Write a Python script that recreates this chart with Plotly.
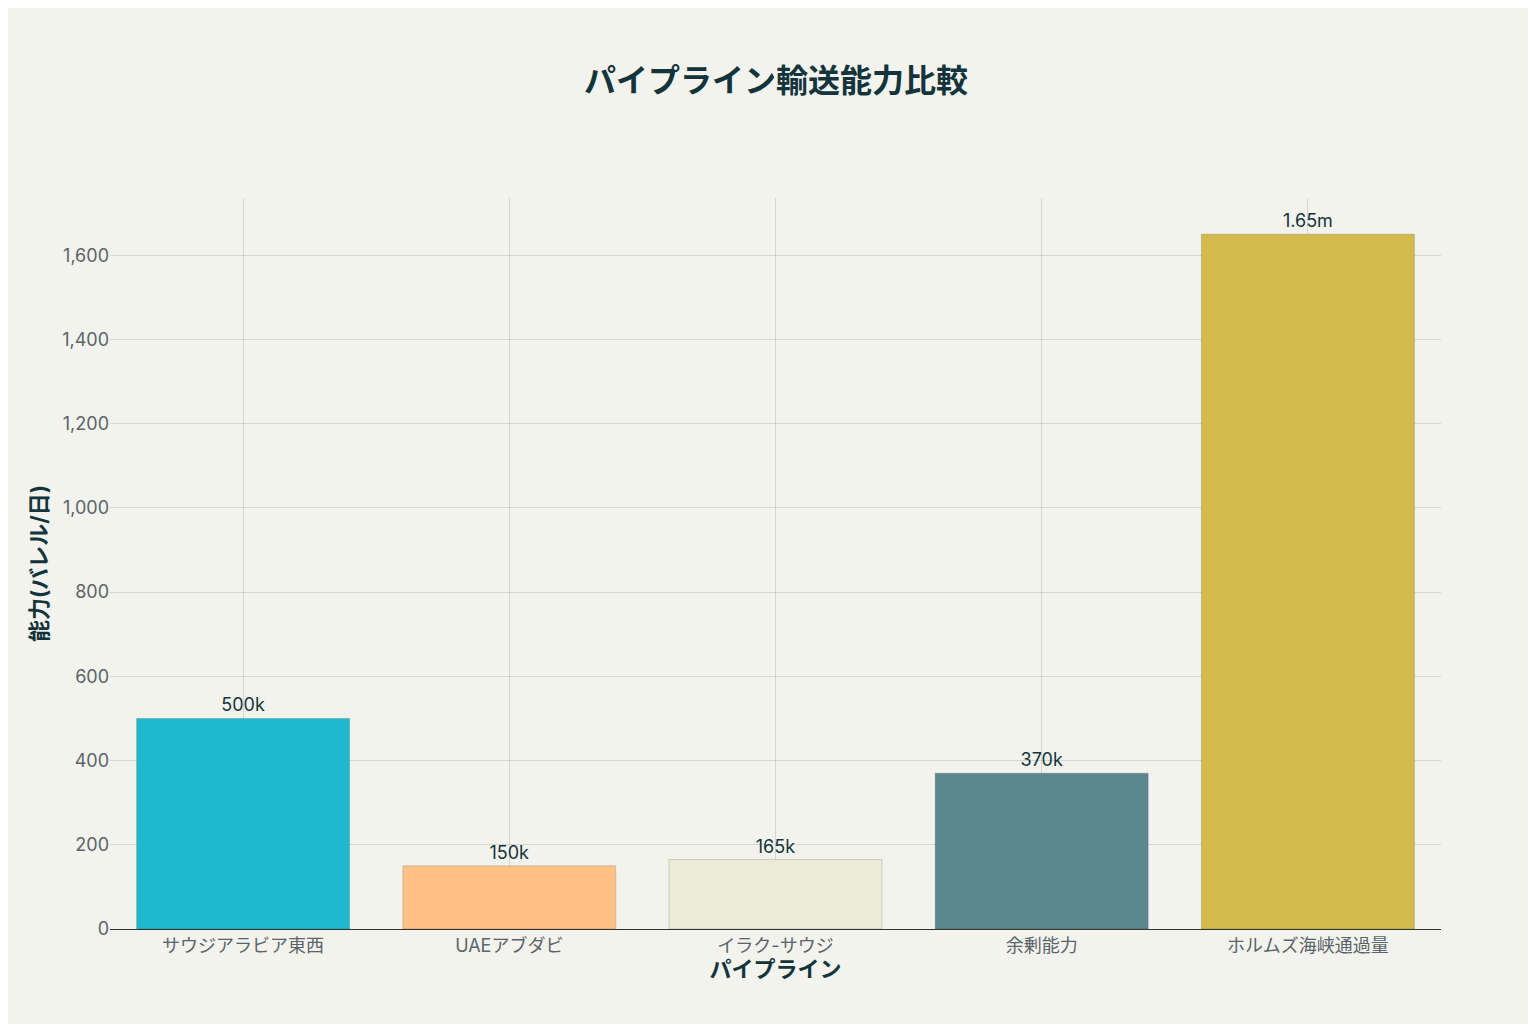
import plotly.graph_objects as go

# ── Data ──────────────────────────────────────────────────────────────────────
pipelines = ["サウジアラビア東西", "UAEアブダビ", "イラク-サウジ", "余剰能力", "ホルムズ海峡通過量"]
capacity_k = [500, 150, 165, 370, 1650]
bar_labels = ["500k", "150k", "165k", "370k", "1.65m"]
bar_colors = ["#1FB8CD", "#FFC185", "#ECEBD5", "#5D878F", "#D2BA4C"]

font_family = "Inter, 'Noto Sans CJK JP', sans-serif"

fig = go.Figure(go.Bar(
    x=pipelines, y=capacity_k,
    text=bar_labels, textposition="outside", cliponaxis=False,
    textfont=dict(size=18, color="#13343B"),
    marker=dict(color=bar_colors, line=dict(color="rgba(0,0,0,0.15)", width=1)),
    width=0.8,
))

fig.update_layout(
    width=1536, height=1024,
    paper_bgcolor="#F3F3EE", plot_bgcolor="#F3F3EE",
    font=dict(family=font_family, size=18, color="#5a6468"),
    title=dict(text="<b>パイプライン輸送能力比較</b>", x=0.5, xanchor="center", y=0.94,
               font=dict(size=32, color="#13343B")),
    margin=dict(l=102, r=103, t=190, b=103),
    showlegend=False,
)
fig.update_xaxes(
    title=dict(text="<b>パイプライン</b>", font=dict(size=22, color="#13343B"), standoff=6),
    showgrid=True, gridcolor="rgba(0,0,0,0.12)",
    showline=True, linecolor="#333333", ticks="",
)
fig.update_yaxes(
    title=dict(text="<b>能力(バレル/日)</b>", font=dict(size=22, color="#13343B"), standoff=8),
    range=[0, 1736], dtick=200, tickformat=",",
    showgrid=True, gridcolor="rgba(0,0,0,0.12)", zeroline=False,
)

fig.write_html("out.html")
